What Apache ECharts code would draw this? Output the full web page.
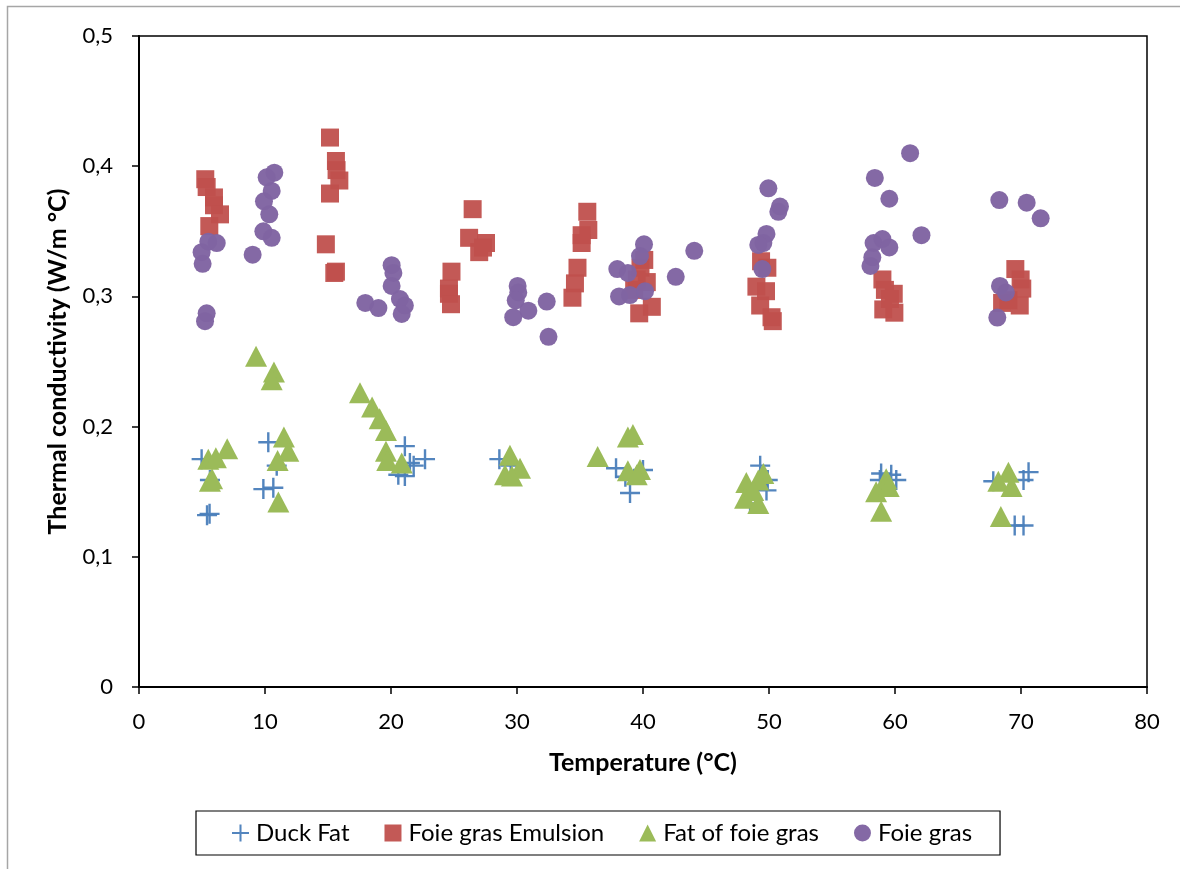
<!DOCTYPE html>
<html><head><meta charset="utf-8">
<script src="https://cdn.jsdelivr.net/npm/echarts@6/dist/echarts.min.js"></script>
<style>html,body{margin:0;padding:0;background:#fff}#c{width:1180px;height:869px}</style>
</head><body><div id="c"></div>
<script>
var duckFatX = [4.97,5.63,5.4,5.6,10.26,10.93,9.87,10.66,21.1,22.7,20.58,21.1,21.8,21.5,28.6,29.5,37.86,38.97,38.6,40.0,49.3,49.9,49.8,48.5,58.9,60.1,58.8,59.7,70.6,70.2,69.5,70.2,67.8];
var duckFatY = [0.175,0.159,0.132,0.133,0.188,0.170,0.152,0.153,0.185,0.175,0.163,0.162,0.170,0.172,0.175,0.170,0.168,0.149,0.1615,0.1667,0.170,0.159,0.151,0.141,0.164,0.159,0.159,0.163,0.165,0.159,0.124,0.124,0.158];

var emulsionX = [5.26,5.37,5.95,5.95,6.43,5.58,15.16,15.63,15.68,15.9,15.16,14.83,15.63,15.5,24.8,24.6,24.6,24.76,26.48,26.2,27.54,27.0,27.3,35.58,35.66,35.13,35.13,34.8,34.6,34.4,40.1,39.8,40.3,39.5,40.7,39.7,39.3,49.37,49.87,49.0,49.76,49.3,50.2,50.3,59.0,59.9,59.07,59.95,59.2,59.6,69.55,69.97,70.1,68.5,69.9,69.0];
var emulsionY = [0.390,0.384,0.376,0.370,0.363,0.354,0.422,0.404,0.397,0.389,0.379,0.340,0.319,0.318,0.319,0.306,0.302,0.294,0.367,0.345,0.341,0.334,0.3375,0.365,0.351,0.347,0.341,0.322,0.310,0.299,0.328,0.322,0.311,0.313,0.292,0.287,0.305,0.327,0.322,0.3075,0.304,0.293,0.284,0.281,0.313,0.302,0.290,0.2875,0.305,0.298,0.321,0.313,0.306,0.295,0.293,0.297];

var fatFoieX = [9.29,10.71,10.53,7.0,5.5,6.1,5.63,5.8,11.5,11.85,11.0,11.06,17.54,18.5,19.1,19.6,19.6,19.7,20.85,29.44,30.24,29.05,29.6,36.4,38.8,39.2,38.8,39.76,39.5,48.2,49.55,49.15,48.1,49.15,48.75,59.3,59.2,58.5,58.9,59.5,69.0,68.2,69.25,68.4];
var fatFoieY = [0.254,0.242,0.236,0.183,0.175,0.176,0.158,0.160,0.192,0.181,0.174,0.142,0.226,0.215,0.206,0.197,0.181,0.174,0.172,0.178,0.168,0.163,0.162,0.177,0.192,0.194,0.166,0.167,0.163,0.157,0.164,0.159,0.145,0.141,0.151,0.160,0.155,0.150,0.135,0.154,0.165,0.158,0.154,0.131];

var foieGrasX = [5.5,6.17,4.97,5.05,5.37,5.24,10.74,10.13,10.53,9.92,10.34,9.87,10.53,9.02,20.05,20.19,20.05,20.71,21.1,20.85,17.96,19.0,30.05,30.1,29.9,30.9,29.7,32.36,32.5,40.08,39.76,37.96,38.8,38.1,38.97,40.16,42.6,44.07,49.95,50.87,50.74,49.8,49.55,49.15,49.47,61.2,58.4,59.55,62.1,58.3,59.0,59.55,58.2,58.05,68.28,70.45,71.56,68.33,68.8,68.12];
var foieGrasY = [0.342,0.341,0.334,0.325,0.287,0.281,0.395,0.3915,0.381,0.373,0.363,0.350,0.345,0.332,0.324,0.318,0.308,0.298,0.293,0.2865,0.295,0.291,0.308,0.303,0.297,0.289,0.284,0.296,0.269,0.340,0.331,0.321,0.318,0.300,0.301,0.304,0.315,0.335,0.383,0.369,0.365,0.348,0.341,0.3395,0.321,0.410,0.391,0.375,0.347,0.341,0.344,0.3376,0.330,0.3234,0.374,0.372,0.360,0.308,0.303,0.2837];

var seriesNames = ['Duck Fat','Foie gras Emulsion','Fat of foie gras','Foie gras'];
var xTicks = [0,10,20,30,40,50,60,70,80];
var yTicks = [0,0.1,0.2,0.3,0.4,0.5];

function pairs(xs, ys){ return xs.map(function(x,i){ return [x, ys[i]]; }); }
var plusPath = 'path://M8.8,0 H11.2 V8.8 H20 V11.2 H11.2 V20 H8.8 V11.2 H0 V8.8 H8.8 Z';
var FONT = 'Lato';

var chart = echarts.init(document.getElementById('c'), null, {renderer:'canvas'});
chart.setOption({
  backgroundColor:'#fff',
  animation:false,
  textStyle:{fontFamily:FONT},
  graphic:[{type:'rect', shape:{x:7.5,y:6.5,width:1300,height:1000}, style:{fill:'none', stroke:'#a6a6a6', lineWidth:1.5}, silent:true, z:-1}],
  grid:{left:139, right:33, top:36, bottom:182, show:true, borderColor:'#000', borderWidth:1.5, backgroundColor:'transparent'},
  xAxis:{type:'value', min:xTicks[0], max:xTicks[xTicks.length-1], interval:10,
    name:'Temperature (°C)', nameLocation:'middle', nameGap:63,
    nameTextStyle:{fontFamily:FONT, fontWeight:'bold', fontSize:25, color:'#000'},
    axisLine:{show:true, lineStyle:{color:'#000', width:2}},
    axisTick:{show:true, inside:false, length:7, lineStyle:{color:'#000', width:1.5}},
    axisLabel:{fontFamily:FONT, fontSize:22, color:'#000', margin:24},
    splitLine:{show:false}},
  yAxis:{type:'value', min:yTicks[0], max:yTicks[yTicks.length-1], interval:0.1,
    name:'Thermal conductivity (W/m °C)', nameLocation:'middle', nameGap:69, nameRotate:90,
    nameTextStyle:{fontFamily:FONT, fontWeight:'bold', fontSize:25, color:'#000'},
    axisLine:{show:true, lineStyle:{color:'#000', width:2}},
    axisTick:{show:true, inside:false, length:7, lineStyle:{color:'#000', width:1.5}},
    axisLabel:{fontFamily:FONT, fontSize:22, color:'#000', margin:26,
      formatter:function(v){ return v===0 ? '0' : v.toFixed(1).replace('.', ','); }},
    splitLine:{show:false}},
  legend:{left:196, top:811, orient:'horizontal',
    borderColor:'#000', borderWidth:1.2, padding:[10,28,10,36],
    itemGap:35, itemWidth:17, itemHeight:17,
    textStyle:{fontFamily:FONT, fontSize:24, color:'#000', padding:[0,0,0,2]},
    data:[
      {name:seriesNames[0], icon:plusPath},
      {name:seriesNames[1], icon:'rect'},
      {name:seriesNames[2], icon:'triangle'},
      {name:seriesNames[3], icon:'circle'}]},
  series:[
    {name:seriesNames[0], type:'scatter', data:pairs(duckFatX,duckFatY), symbol:plusPath, symbolSize:20,
      itemStyle:{color:'#4a7ebb', opacity:0.95}},
    {name:seriesNames[1], type:'scatter', data:pairs(emulsionX,emulsionY), symbol:'rect', symbolSize:18,
      itemStyle:{color:'#c0504d', opacity:0.95}},
    {name:seriesNames[2], type:'scatter', data:pairs(fatFoieX,fatFoieY), symbol:'triangle', symbolSize:[22,21],
      itemStyle:{color:'#9bbb59', opacity:1}},
    {name:seriesNames[3], type:'scatter', data:pairs(foieGrasX,foieGrasY), symbol:'circle', symbolSize:18,
      itemStyle:{color:'#8064a2', opacity:0.97}}
  ]
});
</script></body></html>
